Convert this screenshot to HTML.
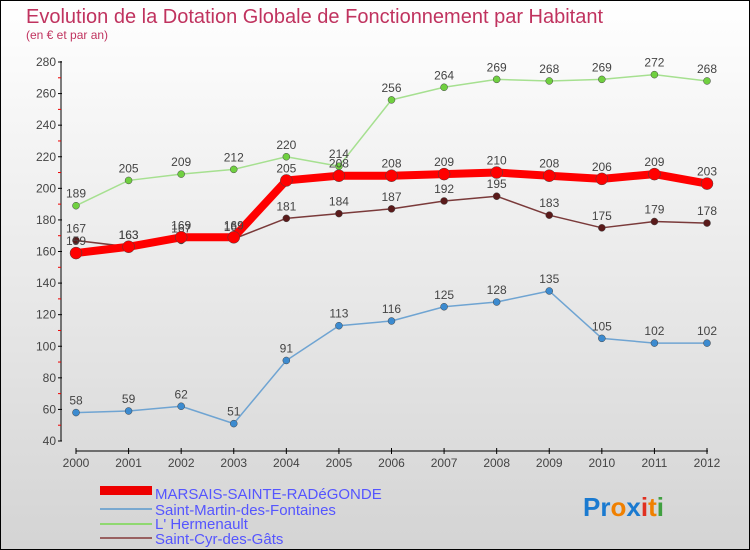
<!DOCTYPE html>
<html><head><meta charset="utf-8"><style>
body{margin:0}
#c{width:748px;height:548px;border:1px solid #000;background:linear-gradient(#fff,#d4d4d4);position:relative;font-family:"Liberation Sans",sans-serif;overflow:hidden}
</style></head><body>
<div id="c">
<svg id="s" width="748" height="548" xmlns="http://www.w3.org/2000/svg">
<text x="25" y="22" font-size="20" fill="#c0335f">Evolution de la Dotation Globale de Fonctionnement par Habitant</text>
<text x="25" y="38" font-size="12" fill="#c0335f">(en € et par an)</text>
<g id="axes"></g><g id="series"></g>
<g>
<rect x="99" y="485" width="52" height="9" fill="#e00"/>
<text x="154" y="498" font-size="15" fill="#55f">MARSAIS-SAINTE-RADéGONDE</text>
<rect x="99" y="507" width="52" height="2" fill="#7aa9d0"/>
<text x="154" y="514" font-size="15" fill="#55f">Saint-Martin-des-Fontaines</text>
<rect x="99" y="522" width="52" height="2" fill="#8fd870"/>
<text x="154" y="528" font-size="15" fill="#55f">L' Hermenault</text>
<rect x="99" y="536" width="52" height="2" fill="#986060"/>
<text x="154" y="543" font-size="15" fill="#55f">Saint-Cyr-des-Gâts</text>
</g>
<text x="582" y="515" font-size="26" font-weight="bold"><tspan fill="#1a7ad0">Pr</tspan><tspan fill="#f08000">o</tspan><tspan fill="#1a7ad0">x</tspan><tspan fill="#e03020">i</tspan><tspan fill="#f08000">t</tspan><tspan fill="#40a040">i</tspan></text>
</svg></div>
<script>
const years=[2000,2001,2002,2003,2004,2005,2006,2007,2008,2009,2010,2011,2012];
const yTicks=[40,60,80,100,120,140,160,180,200,220,240,260,280];
const marsais=[159,163,169,169,205,208,208,209,210,208,206,209,203];
const saintMartin=[58,59,62,51,91,113,116,125,128,135,105,102,102];
const hermenault=[189,205,209,212,220,214,256,264,269,268,269,272,268];
const saintCyr=[167,163,167,168,181,184,187,192,195,183,175,179,178];
const NS="http://www.w3.org/2000/svg";
const X=i=>75+i*(631/12);
const Y=v=>440-(v-40)*(379/240);
function mk(t,a,p){const e=document.createElementNS(NS,t);for(const k in a)e.setAttribute(k,a[k]);p.appendChild(e);return e;}
const ax=document.getElementById('axes');
const yl=mk('line',{x1:60,y1:60,x2:60,y2:440,stroke:'#000'},ax);

const xl=mk('line',{x1:75,y1:450,x2:707,y2:450,stroke:'#000'},ax);

yTicks.forEach(v=>{mk('line',{x1:57,x2:61,y1:Y(v),y2:Y(v),stroke:'#000'},ax);
if(v<280)mk('line',{x1:57,x2:60,y1:Y(v+10),y2:Y(v+10),stroke:'#e00'},ax);
const t=mk('text',{x:55,y:Y(v)+4,'font-size':12,fill:'#444','text-anchor':'end'},ax);t.textContent=v;
});
years.forEach((y,i)=>{mk('line',{x1:X(i),x2:X(i),y1:447,y2:453,stroke:'#000'},ax);
const t=mk('text',{x:X(i),y:466,'font-size':12,fill:'#444','text-anchor':'middle'},ax);t.textContent=y;
});
const sg=document.getElementById('series');
function series(vals,name,color,dot,w,r){
const g=mk('g',{},sg);
const p=mk('polyline',{points:vals.map((v,i)=>X(i)+','+Y(v)).join(' '),fill:'none',stroke:color,'stroke-width':w,'stroke-linejoin':'round'},g);

vals.forEach((v,i)=>{const c=mk('circle',{cx:X(i),cy:Y(v),r:r,fill:dot,stroke:'#444','stroke-width':0.5},g);

const t=mk('text',{x:X(i),y:Y(v)-8,'font-size':12,fill:'#444','text-anchor':'middle'},g);t.textContent=v;
});}
series(saintMartin,'saint-martin','#6fa4d2','#3c8bd0',1.5,3.5);
series(hermenault,'hermenault','#a6e090','#70d040',1.5,3.5);
series(saintCyr,'saint-cyr','#7a3a3a','#5a1a1a',1.5,3.5);
series(marsais,'marsais','#f00','#f00',8,6);
</script>
</body></html>
